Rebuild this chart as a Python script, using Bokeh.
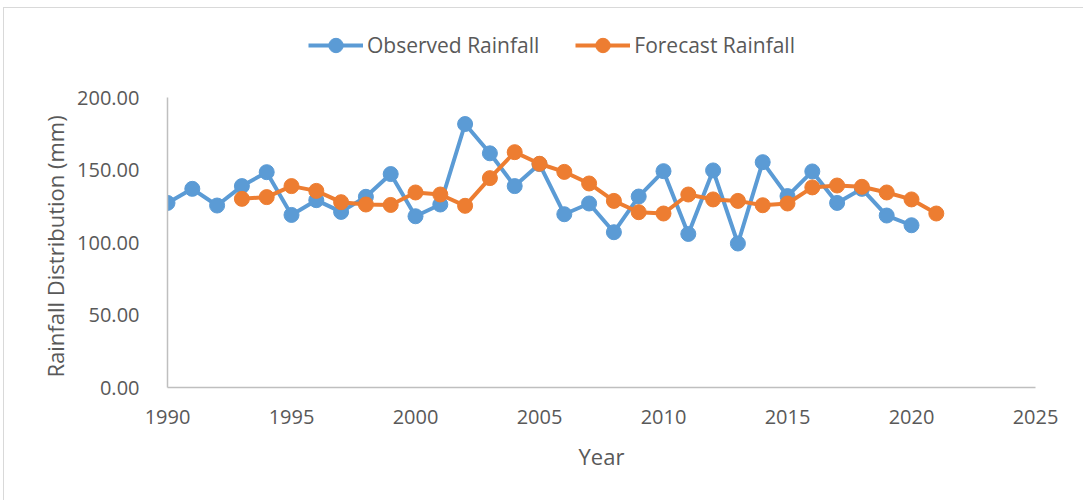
from bokeh.plotting import figure
from bokeh.models import (Legend, LegendItem, SingleIntervalTicker, FixedTicker,
                          NumeralTickFormatter, Range1d, Title)
from bokeh.embed import file_html
from bokeh.resources import INLINE

# Annual rainfall (mm)
obs_years = list(range(1990, 2021))
observed = [127.3, 137.0, 125.5, 138.9, 148.5, 119.0, 129.2, 121.1, 131.5, 147.2,
            118.1, 126.2, 181.7, 161.5, 138.9, 154.1, 119.5, 126.9, 107.1, 131.7,
            149.2, 105.9, 149.7, 99.3, 155.4, 132.0, 149.0, 127.3, 137.0, 118.6,
            111.9]

fc_years = list(range(1993, 2022))
forecast = [130.1, 131.3, 138.9, 135.6, 127.8, 126.2, 125.9, 134.5, 133.1, 125.3,
            144.4, 162.3, 154.3, 148.7, 140.7, 128.7, 120.9, 120.0, 133.1, 129.7,
            128.7, 125.7, 126.9, 138.0, 139.3, 138.4, 134.5, 129.7, 120.0]

y_ticks = [0, 50, 100, 150, 200]

BLUE = "#5B9BD5"
ORANGE = "#ED7D31"
TEXT = "#595959"
FONT = "Open Sans"

# The value axis runs 0-200; extra headroom above it holds the legend.
y_top = 200 * (387 - 25) / (387 - 97)

p = figure(width=1080, height=493, output_backend="svg", toolbar_location=None,
           x_range=Range1d(1990, 2025), y_range=Range1d(0, y_top),
           min_border_left=163, min_border_right=49, min_border_top=17,
           min_border_bottom=114)
p.margin = (7, 0, 0, 3)
p.styles = {"border-top": "1px solid #D9D9D9", "border-left": "1px solid #D9D9D9"}
p.outline_line_color = None
p.background_fill_color = "white"
p.border_fill_color = "white"
p.xgrid.grid_line_color = None
p.ygrid.grid_line_color = None

# Observed series
l1 = p.line(obs_years, observed, line_color=BLUE, line_width=4)
m1 = p.scatter(obs_years, observed, size=15, fill_color=BLUE, line_color=BLUE)
# Forecast series
l2 = p.line(fc_years, forecast, line_color=ORANGE, line_width=4)
m2 = p.scatter(fc_years, forecast, size=15, fill_color=ORANGE, line_color=ORANGE)

# Axes
for ax in (p.xaxis[0], p.yaxis[0]):
    ax.axis_line_color = "#BFBFBF"
    ax.axis_line_width = 1.5
    ax.major_tick_line_color = None
    ax.minor_tick_line_color = None
    ax.major_label_text_font = FONT
    ax.major_label_text_font_size = "20px"
    ax.major_label_text_color = TEXT

p.xaxis.ticker = SingleIntervalTicker(interval=5)
p.xaxis.axis_label = "Year"
p.xaxis.axis_label_text_font = FONT
p.xaxis.axis_label_text_font_size = "22px"
p.xaxis.axis_label_text_font_style = "normal"
p.xaxis.axis_label_text_color = TEXT
p.xaxis.major_label_standoff = 16
p.xaxis.axis_label_standoff = 14

p.yaxis.ticker = FixedTicker(ticks=y_ticks)
p.yaxis.bounds = (0, 200)
p.yaxis.formatter = NumeralTickFormatter(format="0.00")
p.yaxis.major_label_standoff = 22

# Value-axis title, placed along the 0-200 span rather than the whole frame
p.add_layout(Title(text="Rainfall Distribution (mm)", align="left", offset=10,
                   standoff=10, text_font=FONT, text_font_size="22px",
                   text_font_style="normal", text_color=TEXT), "left")

legend = Legend(items=[LegendItem(label="Observed Rainfall", renderers=[l1, m1]),
                       LegendItem(label="Forecast Rainfall", renderers=[l2, m2])],
                orientation="horizontal", location=(141, 324),
                padding=0, spacing=36, glyph_width=55, glyph_height=36,
                label_standoff=4, label_text_font=FONT,
                label_text_font_size="21px", label_text_color=TEXT,
                border_line_color=None, background_fill_alpha=0)
p.add_layout(legend, "center")

open("out.html", "w").write(file_html(p, INLINE))
